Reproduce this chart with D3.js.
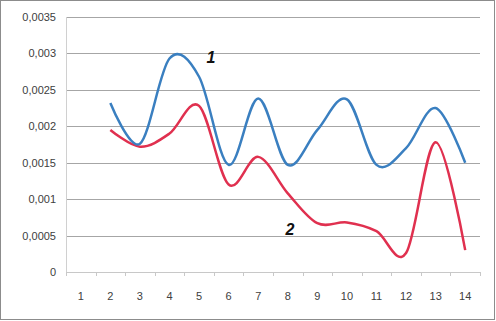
<!DOCTYPE html>
<html lang="en">
<head>
    <meta charset="UTF-8">
    <title>Chart</title>
    <style>
        body { margin: 0; background: #fff; }
    </style>
</head>
<body>

    <svg id="svg" width="496" height="321"></svg>

    <script src="https://d3js.org/d3.v7.min.js"></script>
    <script>
        const categories = [1, 2, 3, 4, 5, 6, 7, 8, 9, 10, 11, 12, 13, 14]
        const yTicks = [0, 0.0005, 0.001, 0.0015, 0.002, 0.0025, 0.003, 0.0035]
        const seriesX = [2, 3, 4, 5, 6, 7, 8, 9, 10, 11, 12, 13, 14]
        const series1 = [0.00232, 0.00176, 0.00293, 0.00268, 0.00147, 0.00238, 0.00147, 0.00195, 0.00237, 0.00147, 0.0017, 0.00225, 0.0015]
        const series2 = [0.00195, 0.00172, 0.0019, 0.00228, 0.0012, 0.00158, 0.00108, 0.00067, 0.00068, 0.00056, 0.00026, 0.00178, 0.0003]

        const svg = d3.select('#svg')

        // outer frame
        svg.append('rect')
            .attr('x', 0.5).attr('y', 0.5)
            .attr('width', 494).attr('height', 319)
            .attr('fill', '#fff')
            .attr('stroke', '#8c8c8c')

        const plotLeft = 66, plotRight = 480, plotTop = 17, plotBottom = 272

        const xScale = d3.scaleBand()
            .domain(categories)
            .range([plotLeft, plotRight])

        const yScale = d3.scaleLinear()
            .domain([0, 0.0035])
            .range([plotBottom, plotTop])

        const fmt = d => d === 0 ? '0' : d3.format('.4~f')(d).replace('.', ',')

        // gridlines
        svg.append('g')
            .selectAll('line')
            .data(yTicks.filter(d => d > 0))
            .enter()
            .append('line')
            .attr('x1', plotLeft).attr('x2', plotRight)
            .attr('y1', d => Math.round(yScale(d)) + 0.5)
            .attr('y2', d => Math.round(yScale(d)) + 0.5)
            .attr('stroke', '#a6a6a6')

        // y labels
        svg.append('g')
            .selectAll('text')
            .data(yTicks)
            .enter()
            .append('text')
            .attr('x', 56)
            .attr('y', d => yScale(d) + 4)
            .attr('text-anchor', 'end')
            .attr('font-family', 'Liberation Sans, Arial, sans-serif')
            .attr('font-size', 11)
            .attr('fill', '#404040')
            .text(fmt)

        // axes lines
        svg.append('line')
            .attr('x1', plotLeft + 0.5).attr('x2', plotLeft + 0.5)
            .attr('y1', plotTop).attr('y2', plotBottom)
            .attr('stroke', '#d0d0d0')
        svg.append('line')
            .attr('x1', plotLeft).attr('x2', plotRight)
            .attr('y1', plotBottom + 0.5).attr('y2', plotBottom + 0.5)
            .attr('stroke', '#c8c8c8')

        // x ticks at category boundaries
        const boundaries = categories.map(c => xScale(c)).concat([plotRight])
        svg.append('g')
            .selectAll('line')
            .data(boundaries)
            .enter()
            .append('line')
            .attr('x1', d => Math.round(d) + 0.5).attr('x2', d => Math.round(d) + 0.5)
            .attr('y1', plotBottom).attr('y2', plotBottom + 4)
            .attr('stroke', '#c8c8c8')

        // x labels
        svg.append('g')
            .selectAll('text')
            .data(categories)
            .enter()
            .append('text')
            .attr('x', d => xScale(d) + xScale.bandwidth() / 2)
            .attr('y', 300)
            .attr('text-anchor', 'middle')
            .attr('font-family', 'Liberation Sans, Arial, sans-serif')
            .attr('font-size', 11)
            .attr('fill', '#404040')
            .text(d => d)

        const line = d3.line()
            .x(d => xScale(d[0]) + xScale.bandwidth() / 2)
            .y(d => yScale(d[1]))
            .curve(d3.curveCardinal.tension(0))

        svg.append('path')
            .datum(d3.zip(seriesX, series2))
            .attr('d', line)
            .attr('fill', 'none')
            .attr('stroke', '#e0304f')
            .attr('stroke-width', 2.5)

        svg.append('path')
            .datum(d3.zip(seriesX, series1))
            .attr('d', line)
            .attr('fill', 'none')
            .attr('stroke', '#3a7fc0')
            .attr('stroke-width', 2.5)

        // series labels
        svg.append('text')
            .attr('x', 211).attr('y', 63)
            .attr('text-anchor', 'middle')
            .attr('font-family', 'Liberation Sans, Arial, sans-serif')
            .attr('font-size', 16)
            .attr('font-weight', 'bold')
            .attr('font-style', 'italic')
            .attr('fill', '#111')
            .text('1')
        svg.append('text')
            .attr('x', 290).attr('y', 235)
            .attr('text-anchor', 'middle')
            .attr('font-family', 'Liberation Sans, Arial, sans-serif')
            .attr('font-size', 16)
            .attr('font-weight', 'bold')
            .attr('font-style', 'italic')
            .attr('fill', '#111')
            .text('2')
    </script>
</body>
</html>
